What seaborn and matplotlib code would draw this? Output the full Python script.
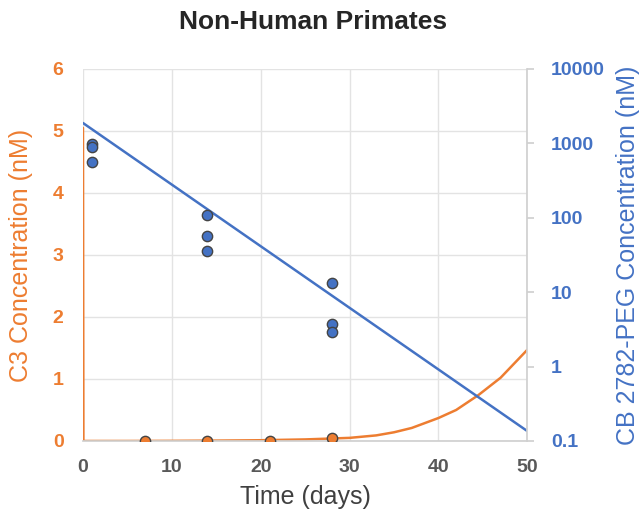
import numpy as np
import pandas as pd
import matplotlib
matplotlib.use("Agg")
import matplotlib.pyplot as plt
import seaborn as sns

# C3 concentration (left axis, nM)
c3_days = [7, 14, 21, 28]
c3_conc = [0.0, 0.0, 0.0, 0.05]
c3_fit_days = [0, 0.05, 5, 10, 15, 20, 25, 28, 30, 33, 35, 37, 40, 42, 44.5, 47, 50]
c3_fit_conc = [5.05, 0.0, 0.0, 0.002, 0.006, 0.012, 0.025, 0.04, 0.05, 0.09, 0.14,
               0.21, 0.37, 0.5, 0.74, 1.02, 1.47]

# CB 2782-PEG concentration (right axis, nM, log)
peg_days = [1, 1, 1, 14, 14, 14, 28, 28, 28]
peg_conc = [980, 900, 560, 109, 57, 36, 13.3, 3.7, 2.9]
peg_fit_days = [0, 50]
peg_fit_conc = [1880, 0.136]

orange = "#ED7D31"
blue = "#4472C4"

sns.set_theme(style="white")
plt.rcParams['font.family'] = ['Liberation Sans', 'DejaVu Sans']

fig = plt.figure(figsize=(6.43, 5.21), dpi=100)
ax = fig.add_axes([0.129, 0.1536, 0.691, 0.714])
ax2 = ax.twinx()

# left axis: C3
sns.lineplot(x=c3_fit_days, y=c3_fit_conc, ax=ax, color=orange, lw=1.8, sort=False)
sns.scatterplot(x=c3_days, y=c3_conc, ax=ax, color=orange, s=55,
                edgecolor="#444444", linewidth=1, zorder=5)

# right axis: PEG
sns.lineplot(x=peg_fit_days, y=peg_fit_conc, ax=ax2, color=blue, lw=1.8)
sns.scatterplot(x=peg_days, y=peg_conc, ax=ax2, color=blue, s=55,
                edgecolor="#444444", linewidth=1, zorder=5)

ax.set_xlim(0, 50)
ax.set_ylim(0, 6)
ax.set_xticks([0, 10, 20, 30, 40, 50])
ax.set_yticks(range(0, 7))
ax2.set_yscale("log")
ax2.set_ylim(0.1, 10000)
ax2.set_yticks([0.1, 1, 10, 100, 1000, 10000])
ax2.set_yticklabels(["0.1", "1", "10", "100", "1000", "10000"])
ax2.minorticks_off()

ax.grid(True, color="#e3e3e3", lw=1)
ax2.grid(False)
ax.set_axisbelow(True)

for a in (ax, ax2):
    for s in ["top", "left"]:
        a.spines[s].set_visible(False)
    a.spines["bottom"].set_color("#d0d0d0")
    a.spines["right"].set_color("#d0d0d0")
ax2.spines["left"].set_visible(False)
ax2.spines["bottom"].set_visible(False)
ax.spines["right"].set_visible(False)

ax.tick_params(axis="x", colors="#595959", labelsize=14, length=0, pad=13)
ax.tick_params(axis="y", colors=orange, labelsize=14, length=0, pad=14)
ax2.tick_params(axis="y", colors=blue, labelsize=14, length=5, pad=12,
                color="#d0d0d0", direction="out")
for lab in ax.get_yticklabels() + ax2.get_yticklabels() + ax.get_xticklabels():
    lab.set_fontweight("bold")

ax.set_xlabel("Time (days)", fontsize=18, color="#404040", va="center")
ax.set_ylabel("C3 Concentration (nM)", fontsize=18, color=orange, va="center")
ax2.set_ylabel("CB 2782-PEG Concentration (nM)", fontsize=18, color=blue, va="center")
ax.xaxis.set_label_coords(0.5, -0.151)
ax.yaxis.set_label_coords(-0.14, 0.5)
ax2.yaxis.set_label_coords(1.227, 0.5)

fig.text(0.487, 0.958, "Non-Human Primates", fontsize=19, fontweight="bold",
         color="#262626", ha="center", va="center")

fig.savefig("out.png", dpi=100)
